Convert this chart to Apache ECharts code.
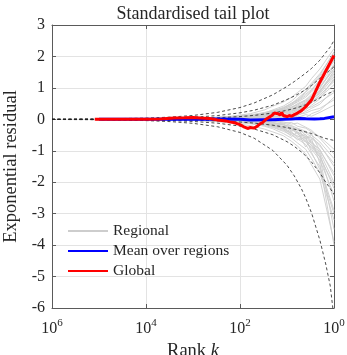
<!DOCTYPE html>
<html>
<head>
<meta charset="utf-8">
<script src="https://cdn.jsdelivr.net/npm/echarts@6/dist/echarts.min.js"></script>
<style>
  html, body { margin: 0; padding: 0; background: #fff; }
  #chart { width: 347px; height: 355px; }
</style>
</head>
<body>
<div id="chart"></div>
<script>
// Rank grid shared by the reference bands (quantile envelopes of the residual)
const bandK = [1e6, 1e5, 1e4, 3000, 1000, 300, 100, 50, 20, 10, 7, 5, 4, 3, 2, 1.5, 1.2, 1];
const bandUpperOuter = [0.004, 0.012, 0.039, 0.071, 0.123, 0.222, 0.375, 0.52, 0.78, 1.045, 1.20, 1.36, 1.47, 1.62, 1.88, 2.12, 2.30, 2.51];
const bandUpperMid   = [0.002, 0.007, 0.021, 0.038, 0.066, 0.120, 0.207, 0.29, 0.45, 0.63, 0.74, 0.86, 0.95, 1.08, 1.30, 1.46, 1.57, 1.67];
const bandUpperInner = [0.001, 0.003, 0.009, 0.016, 0.027, 0.050, 0.088, 0.125, 0.20, 0.287, 0.346, 0.41, 0.465, 0.54, 0.68, 0.79, 0.85, 0.90];
const bandLowerInner = [-0.001, -0.003, -0.009, -0.016, -0.027, -0.049, -0.085, -0.12, -0.187, -0.26, -0.31, -0.36, -0.40, -0.45, -0.545, -0.61, -0.645, -0.67];
const bandLowerMid   = [-0.002, -0.007, -0.021, -0.039, -0.067, -0.123, -0.215, -0.307, -0.49, -0.71, -0.86, -1.03, -1.16, -1.36, -1.70, -2.00, -2.20, -2.39];
const bandLowerOuter = [-0.004, -0.013, -0.040, -0.073, -0.127, -0.236, -0.417, -0.60, -0.99, -1.46, -1.80, -2.19, -2.50, -2.98, -3.84, -4.60, -5.30, -6.33];

// Regional residual paths, all on one rank grid
const regionalK = [3000, 1000, 400, 150, 60, 30, 20, 12, 8, 6, 4, 3, 2, 1];
const regionalResiduals = [
  [0.02, 0.03, 0.05, 0.10, 0.18, 0.30, 0.42, 0.55, 0.70, 0.85, 1.05, 1.30, 1.60, 2.25],
  [-0.01, -0.03, -0.06, -0.12, -0.20, -0.31, -0.40, -0.52, -0.70, -0.85, -1.10, -1.45, -1.90, -3.90],
  [0.01, 0.02, 0.02, 0.05, 0.08, 0.12, 0.20, 0.28, 0.40, 0.45, 0.62, 0.80, 1.05, 1.60],
  [0.00, -0.02, -0.03, -0.05, -0.09, -0.15, -0.22, -0.30, -0.25, -0.42, -0.55, -0.60, -0.85, -1.40],
  [0.01, 0.01, 0.03, 0.06, 0.10, 0.15, 0.12, 0.22, 0.30, 0.25, 0.42, 0.55, 0.70, 1.10],
  [-0.01, 0.00, -0.02, -0.04, -0.06, -0.04, -0.10, -0.18, -0.30, -0.45, -0.70, -0.95, -1.30, -2.40],
  [0.02, 0.04, 0.06, 0.09, 0.14, 0.22, 0.28, 0.35, 0.52, 0.60, 0.80, 0.95, 1.25, 1.90],
  [0.00, 0.01, -0.01, 0.02, 0.04, 0.02, 0.06, 0.10, 0.05, 0.15, 0.20, 0.28, 0.35, 0.62],
  [-0.02, -0.04, -0.05, -0.08, -0.12, -0.20, -0.26, -0.38, -0.50, -0.62, -0.80, -1.10, -1.50, -2.90],
  [0.01, 0.00, 0.02, 0.01, -0.02, 0.03, 0.08, 0.05, 0.12, 0.20, 0.30, 0.45, 0.65, 1.30],
  [0.00, -0.01, 0.01, 0.03, 0.07, 0.12, 0.18, 0.25, 0.22, 0.35, 0.48, 0.62, 0.88, 1.45],
  [-0.01, -0.02, -0.04, -0.03, -0.07, -0.12, -0.16, -0.22, -0.35, -0.30, -0.50, -0.75, -0.95, -1.80],
  [0.01, 0.03, 0.04, 0.08, 0.13, 0.20, 0.30, 0.42, 0.58, 0.75, 0.95, 1.15, 1.45, 2.10],
  [0.00, 0.00, 0.01, -0.02, -0.01, -0.05, -0.02, 0.04, 0.10, 0.06, 0.15, 0.10, 0.22, 0.45],
  [-0.01, -0.01, -0.03, -0.06, -0.10, -0.16, -0.24, -0.35, -0.42, -0.58, -0.72, -0.90, -1.20, -2.10],
  [0.01, 0.02, 0.03, 0.04, 0.06, 0.10, 0.15, 0.13, 0.25, 0.32, 0.38, 0.52, 0.78, 1.20],
  [0.00, -0.01, -0.02, -0.04, -0.05, -0.08, -0.05, -0.12, -0.10, -0.22, -0.28, -0.40, -0.55, -0.95],
  [0.02, 0.02, 0.04, 0.07, 0.11, 0.17, 0.22, 0.32, 0.45, 0.55, 0.70, 0.88, 1.10, 1.75],
  [-0.01, -0.02, -0.02, -0.05, -0.08, -0.14, -0.20, -0.28, -0.40, -0.55, -0.48, -0.70, -1.05, -2.00],
  [0.00, 0.01, 0.02, 0.03, 0.02, 0.05, 0.08, 0.15, 0.20, 0.28, 0.35, 0.40, 0.55, 0.85],
  [0.00, 0.00, -0.01, 0.01, 0.03, 0.00, -0.04, -0.08, -0.15, -0.12, -0.25, -0.35, -0.60, -1.10],
  [0.01, 0.02, 0.04, 0.06, 0.09, 0.14, 0.25, 0.36, 0.48, 0.62, 0.85, 1.05, 1.35, 2.00],
  [-0.02, -0.03, -0.05, -0.09, -0.14, -0.22, -0.30, -0.45, -0.60, -0.75, -0.95, -1.25, -1.70, -3.20],
  [0.01, 0.01, 0.00, 0.02, 0.05, 0.08, 0.12, 0.18, 0.30, 0.38, 0.52, 0.68, 0.92, 1.50],
  [0.00, -0.01, -0.02, -0.02, -0.04, -0.08, -0.12, -0.18, -0.22, -0.35, -0.42, -0.58, -0.80, -1.50],
  [0.01, 0.02, 0.03, 0.05, 0.08, 0.12, 0.16, 0.22, 0.18, 0.30, 0.45, 0.58, 0.75, 1.25],
  [-0.01, -0.01, -0.01, 0.00, -0.03, -0.06, -0.10, -0.15, -0.28, -0.40, -0.55, -0.78, -1.10, -2.60],
  [0.02, 0.03, 0.05, 0.08, 0.12, 0.18, 0.25, 0.30, 0.38, 0.50, 0.62, 0.75, 1.00, 1.60],
  [0.00, 0.01, 0.01, 0.00, 0.02, 0.06, 0.10, 0.08, 0.15, 0.12, 0.25, 0.35, 0.48, 0.95],
  [-0.01, -0.02, -0.03, -0.05, -0.09, -0.12, -0.18, -0.24, -0.32, -0.46, -0.62, -0.85, -1.20, -3.50],
  [0.01, 0.02, 0.03, 0.06, 0.10, 0.16, 0.20, 0.28, 0.36, 0.48, 0.58, 0.72, 0.98, 1.70],
  [0.00, 0.00, 0.00, -0.01, 0.01, 0.04, 0.02, -0.02, 0.06, 0.10, 0.05, 0.18, 0.28, 0.70],
  [-0.01, -0.02, -0.04, -0.07, -0.10, -0.15, -0.20, -0.30, -0.45, -0.52, -0.68, -0.82, -1.15, -2.20],
  [0.01, 0.01, 0.02, 0.04, 0.07, 0.11, 0.17, 0.24, 0.34, 0.42, 0.55, 0.70, 0.90, 1.40],
  [0.00, -0.01, 0.00, -0.03, -0.06, -0.10, -0.14, -0.12, -0.20, -0.28, -0.38, -0.50, -0.72, -1.25],
  [0.02, 0.03, 0.05, 0.08, 0.13, 0.19, 0.26, 0.38, 0.50, 0.66, 0.88, 1.10, 1.40, 2.15],
  [-0.01, -0.02, -0.03, -0.06, -0.11, -0.18, -0.15, -0.32, -0.55, -0.40, -0.88, -0.62, -1.40, -4.00],
  [0.01, 0.02, 0.04, 0.07, 0.12, 0.16, 0.24, 0.33, 0.44, 0.58, 0.75, 0.92, 1.22, 1.85],
  [0.00, -0.01, -0.03, -0.04, -0.08, -0.11, -0.18, -0.15, -0.38, -0.30, -0.62, -0.48, -1.00, -1.70],
  [0.01, 0.01, 0.03, 0.05, 0.09, 0.13, 0.18, 0.26, 0.32, 0.40, 0.50, 0.64, 0.82, 1.35],
  [-0.01, -0.02, -0.02, -0.06, -0.09, -0.13, -0.22, -0.27, -0.48, -0.65, -0.58, -1.05, -1.60, -3.00],
  [0.01, 0.02, 0.02, 0.04, 0.06, 0.09, 0.14, 0.20, 0.27, 0.36, 0.46, 0.60, 0.85, 1.55]
];

// Mean over regions
const meanK        = [1e5, 10000, 3000, 1000, 300, 100, 60, 30, 20, 12, 8, 5.4, 4, 2.6, 2, 1.6, 1];
const meanResidual = [0.00, 0.00, 0.00, 0.00, 0.01, 0.00, -0.02, -0.01, -0.01, 0.00, 0.01, 0.03, 0.02, 0.01, 0.02, 0.03, 0.08];

// Global residual
const globalK = [123000, 30000, 10000, 5000, 2500, 1500, 1000, 700, 450, 300, 200, 166, 130, 100, 80, 69, 60, 50, 44, 38, 33, 28, 25, 21, 18.5, 17, 15.5, 14, 13, 12, 11, 10, 9, 8, 7, 6, 5, 4, 3, 2, 1];
const globalResidual = [0.00, 0.00, 0.00, 0.01, 0.04, 0.05, 0.06, 0.04, 0.03, -0.02, -0.05, -0.08, -0.11, -0.17, -0.25, -0.29, -0.26, -0.28, -0.23, -0.15, -0.10, 0.00, 0.05, 0.12, 0.20, 0.14, 0.18, 0.14, 0.22, 0.12, 0.15, 0.09, 0.12, 0.10, 0.15, 0.20, 0.27, 0.40, 0.62, 1.18, 2.03];

const legendNames = ['Regional', 'Mean over regions', 'Global'];
const yTicks = { min: -6, max: 3, step: 1 };

const FONT = 'Liberation Serif';
const INK = '#262626';
const AXIS = '#5a5a5a';

const pairs = (ks, vs) => ks.map((k, i) => [k, vs[i]]);

const series = [];
regionalResiduals.forEach(vals => {
  series.push({
    name: 'Regional', type: 'line', symbol: 'none', silent: true,
    lineStyle: { color: '#cdcdcd', width: 0.9 },
    itemStyle: { color: '#cdcdcd' },
    data: pairs(regionalK, vals)
  });
});
[bandUpperOuter, bandUpperMid, bandUpperInner, bandLowerInner, bandLowerMid, bandLowerOuter].forEach(vals => {
  series.push({
    name: 'band', type: 'line', symbol: 'none', silent: true,
    lineStyle: { color: '#1e1e1e', width: 0.8, type: [3, 2.5] },
    data: pairs(bandK, vals)
  });
});
series.push({
  name: 'Mean over regions', type: 'line', symbol: 'none',
  lineStyle: { color: '#0000ff', width: 3 }, itemStyle: { color: '#0000ff' },
  data: pairs(meanK, meanResidual)
});
series.push({
  name: 'Global', type: 'line', symbol: 'none',
  lineStyle: { color: '#ff0000', width: 3 }, itemStyle: { color: '#ff0000' },
  data: pairs(globalK, globalResidual)
});

const grid = { left: 52, right: 13, top: 25, bottom: 47, outerBoundsMode: 'none', containLabel: false };

const chart = echarts.init(document.getElementById('chart'), null, { renderer: 'canvas' });
chart.setOption({
  animation: false,
  backgroundColor: '#ffffff',
  grid: grid,
  graphic: [{
    type: 'text',
    x: 193, y: 14,
    style: {
      text: 'Standardised tail plot',
      fill: INK, font: '18px "' + FONT + '"',
      textAlign: 'center', textVerticalAlign: 'middle'
    }
  }],
  legend: {
    data: legendNames,
    orient: 'vertical',
    left: 62, top: 218,
    itemWidth: 40, itemHeight: 14, itemGap: 4,
    itemStyle: { opacity: 0 },
    textStyle: { fontFamily: FONT, fontSize: 15.5, color: INK },
    selectedMode: false
  },
  xAxis: [{
    type: 'log', logBase: 100, min: 1, max: 1e6, inverse: true,
    name: 'Rank {i|k}', nameLocation: 'middle', nameGap: 32,
    nameTextStyle: {
      fontFamily: FONT, fontSize: 18.5, color: INK,
      rich: { i: { fontFamily: FONT, fontSize: 18.5, fontStyle: 'italic', color: INK } }
    },
    axisLine: { onZero: false, lineStyle: { color: AXIS, width: 1 } },
    axisTick: { inside: true, length: 4, lineStyle: { color: AXIS } },
    axisLabel: {
      margin: 10,
      formatter: v => '{b|10}{e|' + Math.round(Math.log10(v)) + '}',
      rich: {
        b: { fontFamily: FONT, fontSize: 16, color: INK, lineHeight: 19, verticalAlign: 'bottom' },
        e: { fontFamily: FONT, fontSize: 11, color: INK, lineHeight: 19, verticalAlign: 'top' }
      }
    },
    splitLine: { show: true, lineStyle: { color: '#e3e3e3', width: 1 } }
  }, {
    type: 'log', logBase: 100, min: 1, max: 1e6, inverse: true, position: 'top',
    axisLine: { onZero: false, lineStyle: { color: AXIS, width: 1 } },
    axisTick: { inside: true, length: 4, lineStyle: { color: AXIS } },
    axisLabel: { show: false },
    splitLine: { show: false }
  }],
  yAxis: [{
    type: 'value', min: yTicks.min, max: yTicks.max, interval: yTicks.step,
    name: 'Exponential residual', nameLocation: 'middle', nameGap: 24,
    nameTextStyle: { fontFamily: FONT, fontSize: 18.5, color: INK },
    axisLine: { show: true, onZero: false, lineStyle: { color: AXIS, width: 1 } },
    axisTick: { show: true, inside: true, length: 4, lineStyle: { color: AXIS } },
    axisLabel: { fontFamily: FONT, fontSize: 16, color: INK, margin: 7 },
    splitLine: { show: true, lineStyle: { color: '#e3e3e3', width: 1 } }
  }, {
    type: 'value', min: yTicks.min, max: yTicks.max, interval: yTicks.step, position: 'right',
    axisLine: { show: true, onZero: false, lineStyle: { color: AXIS, width: 1 } },
    axisTick: { show: true, inside: true, length: 4, lineStyle: { color: AXIS } },
    axisLabel: { show: false },
    splitLine: { show: false }
  }],
  series: series
});
</script>
</body>
</html>
